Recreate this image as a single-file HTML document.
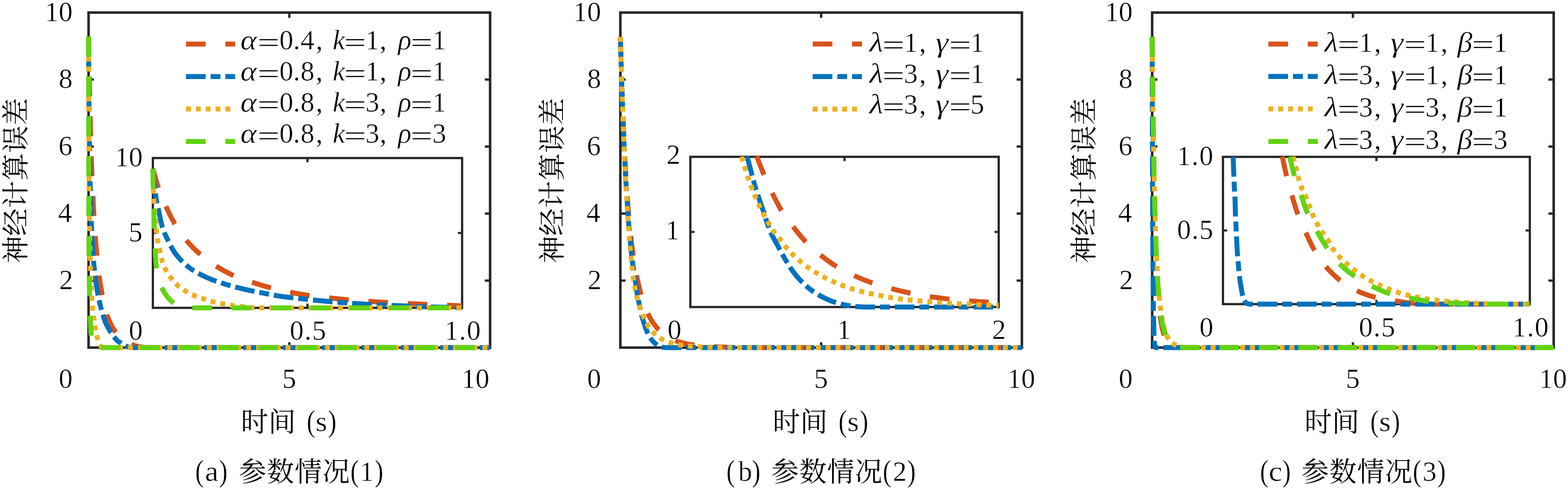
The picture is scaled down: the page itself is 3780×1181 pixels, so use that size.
<!DOCTYPE html>
<html lang="zh"><head><meta charset="utf-8"><title>神经计算误差 - 参数情况(1)(2)(3)</title>
<style>
html,body{margin:0;padding:0;background:#fff}
body{width:3780px;height:1181px;overflow:hidden}
svg{display:block}
text{font-family:"Liberation Serif",serif;font-size:67px;fill:#000;stroke:#fff;stroke-width:.7px}
text.i{font-style:italic}
text.m{text-anchor:middle}
text.cjk{font-family:"Liberation Serif","Noto Serif CJK SC",serif;fill:#000;stroke:none}
path{stroke-linecap:butt;stroke-linejoin:round}
</style></head><body>
<svg width="3780" height="1181" viewBox="0 0 3780 1181">
<rect width="3780" height="1181" fill="#fff"/>
<g id="panel-a">
<rect x="213.5" y="30.3" width="968.0" height="807.5" fill="none" stroke="#262626" stroke-width="6.1"/>
<path d="M697.5 837.8v-12.7M697.5 30.3v12.7M213.5 676.3h12.7M1181.5 676.3h-12.7M213.5 514.8h12.7M1181.5 514.8h-12.7M213.5 353.3h12.7M1181.5 353.3h-12.7M213.5 191.8h12.7M1181.5 191.8h-12.7" stroke="#262626" stroke-width="5.6" fill="none"/>
<g fill="none" stroke-width="11.87" transform="scale(1 1.012)">
<path d="M213.5 87.17C214.0 118.99 214.5 151.31 215.1 182.63C215.8 218.11 216.7 253.05 217.6 287.15C218.4 319.10 219.3 351.11 220.4 381.06C222.0 425.44 223.9 468.19 226.0 505.25C228.8 554.55 232.2 596.72 235.7 630.10C239.3 664.01 243.4 685.69 247.3 706.33C251.2 726.89 255.3 741.57 259.3 753.84C263.4 766.07 267.5 772.84 271.6 779.91C275.6 786.99 279.7 791.75 283.8 796.27C288.0 800.82 292.1 803.85 296.2 807.09C300.1 810.14 304.0 812.77 307.9 815.27C308.7 815.80 309.5 816.33 310.3 816.82C313.5 818.76 316.8 820.24 320.0 821.48C323.2 822.72 326.4 823.48 329.7 824.27C332.9 825.07 336.1 825.71 339.3 826.27C343.2 826.95 347.1 827.34 351.0 827.87L1181.5 827.87" stroke="#D95319" stroke-dasharray="47.48 47.48"/>
<path d="M213.5 87.17C213.7 121.72 213.7 156.50 214.0 190.81C214.1 200.92 214.2 210.99 214.3 221.08C214.5 237.35 214.6 253.80 214.8 269.91C214.9 279.55 215.0 289.06 215.2 298.64C215.6 331.94 215.9 366.17 216.5 398.74C216.7 407.79 216.8 416.92 217.0 425.70C217.2 433.22 217.4 440.47 217.7 447.80C218.6 479.86 219.4 513.34 220.7 541.49C221.9 568.48 223.4 593.43 224.9 613.97C226.5 634.78 228.4 650.74 230.3 665.23C232.1 680.02 234.1 690.90 236.1 701.47C238.1 712.04 240.1 720.55 242.1 728.65C244.1 736.66 246.2 743.29 248.2 749.86C250.2 756.40 252.2 763.00 254.2 767.98C256.3 773.06 258.3 776.11 260.4 779.91C262.5 783.69 264.5 787.42 266.6 790.74C268.6 794.05 270.7 797.08 272.7 799.80C274.8 802.53 276.8 804.88 278.9 807.09C280.9 809.30 282.9 811.44 285.0 813.06C287.0 814.68 289.1 815.42 291.1 816.82C293.2 818.22 295.2 820.25 297.3 821.46C299.1 822.54 300.9 823.13 302.8 823.89C305.3 824.93 307.8 826.07 310.3 826.76C312.2 827.29 314.2 827.50 316.1 827.87L1181.5 827.87" stroke="#0072BD" stroke-dasharray="47.48 11.87 23.74 11.87"/>
<path d="M213.5 87.17C213.6 126.65 213.6 166.15 213.7 205.61C213.8 223.74 213.8 241.87 213.9 259.97C213.9 277.30 214.0 294.61 214.1 311.90C214.2 329.37 214.3 346.80 214.4 364.27C214.5 382.08 214.5 399.95 214.6 417.74C214.7 435.45 214.8 453.27 215.0 470.78C215.2 488.11 215.5 505.06 215.7 522.26C215.9 539.31 216.1 556.85 216.3 573.53C216.6 590.45 217.0 607.27 217.5 623.03C217.9 638.23 218.5 652.86 219.1 666.56C219.7 680.68 220.4 694.44 221.1 706.33C221.9 718.14 222.7 728.52 223.6 737.71C224.5 747.05 225.5 754.76 226.4 761.80C227.4 768.82 228.4 774.28 229.4 779.91C230.3 785.38 231.3 790.80 232.3 795.16C233.2 799.48 234.2 802.69 235.2 805.99C236.2 809.33 237.2 812.58 238.2 815.05C239.3 817.64 240.4 819.08 241.4 821.02C242.4 822.83 243.4 825.18 244.4 826.32C245.4 827.45 246.5 827.37 247.5 827.87L310.3 827.87L1181.5 827.87" stroke="#EDB120" stroke-dasharray="11.87 11.87"/>
<path d="M213.5 87.17C213.5 122.53 213.6 157.88 213.6 193.24C213.7 228.74 213.7 264.25 213.8 299.75C213.8 334.81 213.9 369.87 214.0 404.93C214.0 440.36 214.1 475.82 214.2 511.21C214.3 545.49 214.3 580.20 214.6 613.97C215.0 649.72 215.3 687.73 216.2 719.59C217.1 749.77 218.4 781.30 220.0 801.13C220.7 810.62 221.6 820.46 222.5 824.55C223.1 827.13 223.7 826.78 224.3 827.87L310.3 827.87L1181.5 827.87" stroke="#62D412" stroke-dasharray="47.48 47.48"/>
<path d="M448.3 104.94L566.9 104.94" stroke="#D95319" stroke-dasharray="47.48 47.48"/>
<path d="M448.3 182.21L566.9 182.21" stroke="#0072BD" stroke-dasharray="47.48 11.87 23.74 11.87"/>
<path d="M448.3 259.58L566.9 259.58" stroke="#EDB120" stroke-dasharray="11.87 11.87"/>
<path d="M448.3 336.86L566.9 336.86" stroke="#62D412" stroke-dasharray="47.48 47.48"/>
</g>
<g class="t">
<g aria-label="α=0.4, k=1, ρ=1">
<text class="i" transform="translate(579.4 119.1) scale(1.123 1)">α</text>
<text transform="translate(620.2 124.6) scale(1.437 1)">=</text>
<text class="m" transform="scale(1.0 1)" x="690.3 715.0 741.2 769.6" y="119.1">0.4,</text>
<text class="i" x="802.0" y="119.1">k</text>
<text transform="translate(828.9 124.6) scale(1.434 1)">=</text>
<text class="m" transform="scale(1.0 1)" x="897.7 923.6" y="119.1">1,</text>
<text class="i" x="959.6" y="119.1">ρ</text>
<text transform="translate(989.2 124.6) scale(1.434 1)">=</text>
<text class="m" transform="scale(1.0 1)" x="1058.9" y="119.1">1</text>
</g>
<g aria-label="α=0.8, k=1, ρ=1">
<text class="i" transform="translate(579.4 194.1) scale(1.123 1)">α</text>
<text transform="translate(620.2 199.6) scale(1.437 1)">=</text>
<text class="m" transform="scale(1.0 1)" x="690.3 715.0 741.2 769.6" y="194.1">0.8,</text>
<text class="i" x="802.0" y="194.1">k</text>
<text transform="translate(828.9 199.6) scale(1.434 1)">=</text>
<text class="m" transform="scale(1.0 1)" x="897.7 923.6" y="194.1">1,</text>
<text class="i" x="959.6" y="194.1">ρ</text>
<text transform="translate(989.2 199.6) scale(1.434 1)">=</text>
<text class="m" transform="scale(1.0 1)" x="1058.9" y="194.1">1</text>
</g>
<g aria-label="α=0.8, k=3, ρ=1">
<text class="i" transform="translate(579.4 269.1) scale(1.123 1)">α</text>
<text transform="translate(620.2 274.6) scale(1.437 1)">=</text>
<text class="m" transform="scale(1.0 1)" x="690.3 715.0 741.2 769.6" y="269.1">0.8,</text>
<text class="i" x="802.0" y="269.1">k</text>
<text transform="translate(828.9 274.6) scale(1.434 1)">=</text>
<text class="m" transform="scale(1.0 1)" x="897.7 923.6" y="269.1">3,</text>
<text class="i" x="959.6" y="269.1">ρ</text>
<text transform="translate(989.2 274.6) scale(1.434 1)">=</text>
<text class="m" transform="scale(1.0 1)" x="1058.9" y="269.1">1</text>
</g>
<g aria-label="α=0.8, k=3, ρ=3">
<text class="i" transform="translate(579.4 344.1) scale(1.123 1)">α</text>
<text transform="translate(620.2 349.6) scale(1.437 1)">=</text>
<text class="m" transform="scale(1.0 1)" x="690.3 715.0 741.2 769.6" y="344.1">0.8,</text>
<text class="i" x="802.0" y="344.1">k</text>
<text transform="translate(828.9 349.6) scale(1.434 1)">=</text>
<text class="m" transform="scale(1.0 1)" x="897.7 923.6" y="344.1">3,</text>
<text class="i" x="959.6" y="344.1">ρ</text>
<text transform="translate(989.2 349.6) scale(1.434 1)">=</text>
<text class="m" transform="scale(1.0 1)" x="1058.9" y="344.1">3</text>
</g>
</g>
<rect x="368.5" y="380.9" width="745.5" height="361.1" fill="none" stroke="#262626" stroke-width="5.4"/>
<path d="M741.2 742.0v-10.2M741.2 380.9v10.2M368.5 561.5h10.2M1114.0 561.5h-10.2" stroke="#262626" stroke-width="5.2" fill="none"/>
<g fill="none" stroke-width="11.87" transform="scale(1 1.012)">
<path d="M368.5 401.98C372.7 416.21 376.2 430.66 381.0 444.66C386.5 460.53 392.9 476.15 399.9 491.40C406.5 505.69 413.4 520.01 421.6 533.40C433.8 553.24 448.3 572.36 464.5 588.93C486.1 610.98 512.6 629.84 539.7 644.76C567.3 659.93 598.4 669.62 628.8 678.85C659.0 688.05 690.3 694.61 721.5 700.10C752.6 705.57 784.2 708.60 815.6 711.76C847.1 714.92 878.6 717.05 910.2 719.07C942.0 721.11 973.8 722.46 1005.6 723.91C1035.5 725.28 1065.3 726.45 1095.2 727.57C1101.5 727.80 1107.7 728.03 1114.0 728.26" stroke="#D95319" stroke-dasharray="47.48 47.48"/>
<path d="M368.5 401.98C369.9 417.42 370.4 432.98 372.6 448.32C373.3 452.84 374.1 457.34 374.8 461.86C376.0 469.13 376.7 476.49 378.2 483.70C379.1 488.00 380.3 492.26 381.3 496.54C384.9 511.43 386.9 526.74 391.6 541.30C392.9 545.35 394.2 549.43 395.8 553.36C397.2 556.72 398.9 559.97 400.5 563.24C407.5 577.58 414.2 592.55 423.8 605.14C433.0 617.21 444.4 628.37 456.6 637.55C468.9 646.86 483.3 654.00 497.5 660.47C512.0 667.09 527.4 671.95 542.6 676.68C557.9 681.41 573.4 685.21 589.0 688.83C604.4 692.42 620.0 695.38 635.5 698.32C651.0 701.24 666.4 704.20 682.0 706.42C697.9 708.69 713.9 710.06 729.8 711.76C745.6 713.45 761.5 715.12 777.3 716.60C793.1 718.08 808.8 719.43 824.6 720.65C840.4 721.87 856.1 722.92 871.9 723.91C887.6 724.90 903.4 725.86 919.1 726.58C934.9 727.31 950.6 727.64 966.4 728.26C982.2 728.89 997.9 729.80 1013.7 730.34C1027.8 730.82 1041.9 731.08 1056.0 731.42C1075.3 731.89 1094.7 732.28 1114.0 732.71" stroke="#0072BD" stroke-dasharray="47.48 11.87 23.74 11.87"/>
<path d="M368.5 401.98C369.0 419.63 369.4 437.29 370.1 454.94C370.4 463.04 370.7 471.15 371.2 479.25C371.7 487.00 372.3 494.74 373.0 502.47C373.7 510.28 374.6 518.08 375.3 525.89C376.0 533.86 376.5 541.84 377.3 549.80C378.1 557.72 378.7 565.69 380.1 573.52C381.5 581.27 383.8 588.85 385.5 596.54C387.2 604.17 388.1 612.01 390.4 619.47C392.7 627.03 395.6 634.56 399.2 641.60C402.7 648.40 406.9 654.94 411.5 661.07C416.2 667.38 421.5 673.54 427.3 678.85C433.1 684.14 439.7 688.78 446.4 692.89C453.2 697.06 460.6 700.51 468.0 703.66C475.4 706.80 483.1 709.24 490.7 711.76C498.1 714.20 505.5 716.63 513.1 718.58C520.6 720.51 528.2 721.95 535.8 723.42C543.5 724.91 551.2 726.37 559.0 727.47C567.2 728.63 575.4 729.28 583.6 730.14C591.3 730.95 599.0 732.00 606.8 732.51C614.5 733.02 622.3 732.98 630.0 733.20L1114.0 733.20" stroke="#EDB120" stroke-dasharray="11.87 11.87"/>
<path d="M368.5 401.98C368.8 417.79 369.2 433.60 369.5 449.41C369.9 465.28 370.2 481.16 370.6 497.04C371.0 512.72 371.4 528.40 372.0 544.07C372.6 559.92 373.1 575.77 374.0 591.60C374.9 606.93 374.9 622.45 377.3 637.55C379.9 653.54 382.4 670.53 389.6 684.78C396.4 698.28 405.9 712.38 418.3 721.25C424.2 725.49 430.9 729.89 438.0 731.72C442.5 732.87 447.3 732.72 452.0 733.20L1114.0 733.20" stroke="#62D412" stroke-dasharray="47.48 47.48"/>
</g>
</g>
<g id="panel-b">
<rect x="1495.5" y="30.3" width="968.0" height="807.5" fill="none" stroke="#262626" stroke-width="6.1"/>
<path d="M1979.5 837.8v-12.7M1979.5 30.3v12.7M1495.5 676.3h12.7M2463.5 676.3h-12.7M1495.5 514.8h12.7M2463.5 514.8h-12.7M1495.5 353.3h12.7M2463.5 353.3h-12.7M1495.5 191.8h12.7M2463.5 191.8h-12.7" stroke="#262626" stroke-width="5.6" fill="none"/>
<g fill="none" stroke-width="11.87" transform="scale(1 1.012)">
<path d="M1495.5 87.79L1499.0 203.55L1502.8 301.20C1504.0 328.68 1505.2 356.15 1506.8 383.58C1508.0 406.77 1509.4 429.95 1511.0 453.08C1512.4 472.64 1513.8 492.21 1515.5 511.70C1517.0 528.22 1518.5 544.74 1520.4 561.15C1521.9 575.11 1523.6 589.06 1525.6 602.87C1527.3 614.67 1529.0 626.46 1531.2 638.06C1533.0 648.06 1535.0 657.95 1537.2 667.75C1538.6 674.42 1540.2 681.07 1541.8 687.63C1543.4 693.93 1545.0 700.19 1546.8 706.33C1548.7 712.85 1550.5 719.44 1552.8 725.59C1555.0 731.39 1557.5 736.84 1559.9 742.25C1562.5 747.95 1565.2 753.71 1568.1 758.87C1571.0 763.88 1574.1 768.49 1577.4 772.85C1580.5 777.15 1583.9 781.29 1587.3 784.88C1590.8 788.53 1594.6 791.62 1598.3 794.54C1602.1 797.43 1605.9 800.05 1609.7 802.34C1613.7 804.68 1617.8 806.56 1621.8 808.38C1625.7 810.13 1629.6 811.72 1633.6 813.10C1637.7 814.54 1641.9 815.72 1646.0 816.80C1650.0 817.84 1654.1 818.73 1658.1 819.49C1662.3 820.27 1666.4 820.82 1670.6 821.39C1674.6 821.93 1678.7 822.33 1682.7 822.84C1684.8 823.11 1687.0 823.43 1689.1 823.68C1698.8 824.82 1708.5 824.93 1718.1 825.47C1727.8 826.01 1737.5 826.53 1747.2 826.91C1760.1 827.41 1773.0 827.56 1785.9 827.87L2463.5 827.87" stroke="#D95319" stroke-dasharray="47.48 47.48"/>
<path d="M1495.5 87.79L1499.0 203.55L1502.6 301.20C1503.7 328.67 1504.9 356.14 1506.3 383.58C1507.4 406.76 1508.7 429.94 1510.1 453.08C1511.3 472.64 1512.6 492.19 1514.0 511.70C1515.3 528.21 1516.6 544.71 1518.1 561.15C1519.4 575.09 1520.7 589.02 1522.3 602.87C1523.6 614.64 1525.0 626.40 1526.6 638.06C1528.0 648.01 1529.6 657.87 1531.1 667.75C1532.2 674.59 1533.3 681.42 1534.3 688.25C1534.9 691.66 1535.3 695.10 1535.9 698.48C1536.5 701.92 1537.2 705.30 1537.9 708.71C1538.5 711.84 1539.1 714.98 1539.7 718.10C1540.4 721.40 1541.2 724.65 1541.8 727.97C1542.5 731.56 1543.0 735.24 1543.8 738.82C1544.5 742.28 1545.2 745.75 1546.1 749.09C1547.1 752.91 1548.4 756.50 1549.6 760.20C1551.2 765.42 1552.8 770.76 1554.6 775.85C1556.8 782.06 1559.0 788.36 1561.7 793.92C1564.2 799.15 1567.1 804.21 1570.2 808.38C1573.5 812.68 1577.2 816.33 1580.9 819.23C1584.7 822.18 1588.9 824.44 1593.0 825.84C1595.3 826.63 1597.8 827.08 1600.1 827.42C1601.8 827.66 1603.5 827.73 1605.1 827.87L1689.1 827.87L2463.5 827.87" stroke="#0072BD" stroke-dasharray="47.48 11.87 23.74 11.87"/>
<path d="M1495.5 87.79L1499.0 203.68L1502.4 301.43C1503.5 328.92 1504.7 356.40 1505.9 383.87C1507.0 407.06 1508.2 430.24 1509.5 453.40C1510.6 472.96 1511.8 492.51 1513.1 512.04C1514.2 528.54 1515.4 545.04 1516.7 561.50C1517.8 575.42 1519.0 589.34 1520.3 603.21C1521.5 614.96 1522.7 626.70 1524.0 638.39C1525.2 648.31 1526.5 658.17 1527.7 668.06C1527.8 668.88 1527.9 669.71 1528.1 670.53C1528.5 674.00 1529.3 677.36 1529.9 680.76C1530.5 684.06 1531.2 687.36 1531.8 690.63C1532.5 693.98 1533.2 697.32 1534.0 700.64C1534.7 703.95 1535.4 707.25 1536.3 710.51C1537.1 713.76 1537.9 716.97 1538.8 720.17C1539.7 723.40 1540.6 726.63 1541.6 729.78C1542.5 732.85 1543.6 735.83 1544.6 738.82C1545.7 741.75 1546.7 744.76 1547.8 747.54C1549.1 750.49 1550.6 753.12 1551.9 755.96C1553.2 758.73 1554.3 761.68 1555.7 764.38C1557.0 767.11 1558.4 769.71 1559.9 772.23C1561.4 774.74 1562.9 777.16 1564.5 779.46C1566.1 781.78 1567.8 784.01 1569.5 786.07C1571.1 788.00 1572.8 789.77 1574.5 791.50C1576.3 793.28 1578.0 794.98 1579.9 796.57C1581.7 798.20 1583.6 799.71 1585.5 801.15C1587.4 802.56 1589.3 803.88 1591.2 805.12C1593.2 806.36 1595.1 807.55 1597.1 808.60C1599.0 809.64 1601.0 810.52 1603.0 811.38C1605.0 812.25 1607.0 813.06 1609.0 813.80C1611.0 814.54 1613.1 815.19 1615.1 815.83C1617.1 816.47 1619.1 817.07 1621.1 817.64C1623.1 818.20 1625.2 818.76 1627.2 819.23C1629.2 819.69 1631.2 820.06 1633.2 820.42C1635.3 820.78 1637.4 821.06 1639.4 821.39C1641.5 821.71 1643.6 822.07 1645.7 822.36C1647.8 822.63 1649.8 822.82 1651.9 823.06C1653.9 823.30 1656.0 823.59 1658.0 823.81C1660.1 824.03 1662.1 824.19 1664.2 824.38C1666.2 824.58 1668.3 824.82 1670.4 825.00C1672.5 825.19 1674.6 825.34 1676.7 825.49C1678.7 825.62 1680.7 825.74 1682.7 825.84C1684.8 825.94 1687.0 826.02 1689.1 826.10C1702.0 826.61 1714.9 826.93 1727.8 827.23C1740.7 827.52 1753.6 827.66 1766.5 827.87L2463.5 827.87" stroke="#EDB120" stroke-dasharray="11.87 11.87"/>
<path d="M1959.1 104.84L2077.9 104.84" stroke="#D95319" stroke-dasharray="47.48 47.48"/>
<path d="M1959.1 182.41L2077.9 182.41" stroke="#0072BD" stroke-dasharray="47.48 11.87 23.74 11.87"/>
<path d="M1959.1 259.88L2077.9 259.88" stroke="#EDB120" stroke-dasharray="11.87 11.87"/>
</g>
<g class="t">
<g aria-label="λ=1, γ=1">
<text class="i" transform="translate(2095.7 125.2) scale(1.156 1)">λ</text>
<text transform="translate(2126.6 130.7) scale(1.443 1)">=</text>
<text class="m" transform="scale(1.0 1)" x="2195.8 2224.0" y="125.2">1,</text>
<text class="i" transform="translate(2255.5 125.2) scale(1.160 1)">γ</text>
<text transform="translate(2287.4 130.7) scale(1.437 1)">=</text>
<text class="m" transform="scale(1.0 1)" x="2356.1" y="125.2">1</text>
</g>
<g aria-label="λ=3, γ=1">
<text class="i" transform="translate(2095.7 199.8) scale(1.156 1)">λ</text>
<text transform="translate(2126.6 205.3) scale(1.443 1)">=</text>
<text class="m" transform="scale(1.0 1)" x="2195.8 2224.0" y="199.8">3,</text>
<text class="i" transform="translate(2255.5 199.8) scale(1.160 1)">γ</text>
<text transform="translate(2287.4 205.3) scale(1.437 1)">=</text>
<text class="m" transform="scale(1.0 1)" x="2356.1" y="199.8">1</text>
</g>
<g aria-label="λ=3, γ=5">
<text class="i" transform="translate(2095.7 274.2) scale(1.156 1)">λ</text>
<text transform="translate(2126.6 279.7) scale(1.443 1)">=</text>
<text class="m" transform="scale(1.0 1)" x="2195.8 2224.0" y="274.2">3,</text>
<text class="i" transform="translate(2255.5 274.2) scale(1.160 1)">γ</text>
<text transform="translate(2287.4 279.7) scale(1.437 1)">=</text>
<text class="m" transform="scale(1.0 1)" x="2356.1" y="274.2">5</text>
</g>
</g>
<rect x="1664.2" y="378.0" width="743.4" height="362.0" fill="none" stroke="#262626" stroke-width="5.4"/>
<path d="M2035.9 740.0v-10.2M2035.9 378.0v10.2M1664.2 559.0h10.2M2407.6 559.0h-10.2" stroke="#262626" stroke-width="5.2" fill="none"/>
<g fill="none" stroke-width="11.87" transform="scale(1 1.012)">
<path d="M1824.2 372.33C1830.1 387.19 1835.7 402.19 1842.0 416.90C1848.0 431.00 1854.3 445.04 1861.1 458.79C1868.3 473.43 1875.6 488.19 1884.3 501.98C1892.5 514.97 1902.1 527.19 1911.6 539.33C1921.6 552.10 1931.7 565.00 1943.0 576.58C1954.0 587.81 1966.1 598.14 1978.5 607.91C1990.7 617.56 2003.5 626.82 2016.8 634.88C2030.3 643.05 2044.7 649.98 2059.1 656.52C2073.4 663.01 2088.1 668.89 2102.9 674.01C2118.1 679.26 2133.7 683.46 2149.3 687.55C2164.2 691.46 2179.3 695.03 2194.4 698.12C2210.2 701.36 2226.2 704.01 2242.2 706.42C2257.6 708.76 2273.2 710.75 2288.7 712.45C2304.6 714.19 2320.6 715.43 2336.5 716.70C2352.0 717.93 2367.5 718.81 2383.0 719.96C2391.2 720.57 2399.4 721.21 2407.6 721.84" stroke="#D95319" stroke-dasharray="47.48 47.48"/>
<path d="M1801.0 372.33C1805.1 387.65 1809.2 402.96 1813.3 418.28C1815.3 425.92 1817.2 433.63 1819.4 441.21C1821.7 448.91 1824.4 456.50 1826.9 464.13C1829.2 471.16 1831.6 478.19 1834.0 485.18C1836.6 492.58 1839.5 499.88 1842.0 507.31C1844.7 515.35 1846.7 523.61 1849.5 531.62C1852.2 539.39 1855.0 547.17 1858.4 554.64C1862.3 563.21 1867.4 571.25 1871.9 579.55C1878.3 591.25 1884.2 603.21 1891.1 614.62C1899.5 628.55 1908.0 642.68 1918.4 655.14C1928.2 666.87 1939.1 678.19 1951.2 687.55C1963.7 697.19 1977.8 705.37 1992.2 711.86C2006.9 718.48 2022.7 723.56 2038.6 726.68C2047.6 728.45 2056.8 729.47 2066.0 730.24C2072.3 730.77 2078.7 730.91 2085.1 731.23L2407.6 731.23" stroke="#0072BD" stroke-dasharray="47.48 11.87 23.74 11.87"/>
<path d="M1788.0 373.02C1788.4 374.87 1788.8 376.72 1789.2 378.56C1791.0 386.34 1793.8 393.87 1796.3 401.48C1798.7 408.89 1801.1 416.27 1803.7 423.62C1806.3 431.13 1809.1 438.61 1811.9 446.05C1814.7 453.46 1817.6 460.88 1820.7 468.18C1823.8 475.47 1827.1 482.66 1830.5 489.82C1833.9 497.06 1837.3 504.32 1841.1 511.36C1844.8 518.24 1848.9 524.93 1852.9 531.62C1856.9 538.20 1860.6 544.95 1865.1 551.19C1869.8 557.80 1875.6 563.68 1880.7 570.06C1885.6 576.26 1890.1 582.88 1895.2 588.93C1900.4 595.04 1905.9 600.88 1911.6 606.52C1917.3 612.14 1923.2 617.58 1929.3 622.73C1935.5 627.93 1941.9 632.92 1948.5 637.55C1954.7 641.87 1961.1 645.84 1967.6 649.70C1974.3 653.70 1981.1 657.50 1988.1 661.07C1995.2 664.73 2002.5 668.12 2009.9 671.34C2017.1 674.50 2024.4 677.46 2031.8 680.24C2039.2 683.03 2046.7 685.70 2054.2 688.04C2061.7 690.37 2069.3 692.34 2076.9 694.27C2084.6 696.23 2092.3 698.04 2100.1 699.70C2107.8 701.36 2115.6 702.81 2123.4 704.25C2131.1 705.68 2138.9 707.03 2146.6 708.30C2154.3 709.57 2162.0 710.82 2169.8 711.86C2177.5 712.89 2185.3 713.72 2193.1 714.53C2201.0 715.34 2208.9 715.98 2216.8 716.70C2224.8 717.43 2232.9 718.24 2240.9 718.87C2248.8 719.49 2256.8 719.91 2264.7 720.45C2272.5 720.99 2280.4 721.64 2288.2 722.13C2296.1 722.63 2304.0 722.98 2311.9 723.42C2319.8 723.86 2327.8 724.39 2335.7 724.80C2343.7 725.22 2351.8 725.57 2359.8 725.89C2367.5 726.19 2375.3 726.45 2383.0 726.68C2391.2 726.92 2399.4 727.08 2407.6 727.27" stroke="#EDB120" stroke-dasharray="11.87 11.87"/>
</g>
</g>
<g id="panel-c">
<rect x="2777.5" y="30.3" width="968.0" height="807.5" fill="none" stroke="#262626" stroke-width="6.1"/>
<path d="M3261.5 837.8v-12.7M3261.5 30.3v12.7M2777.5 676.3h12.7M3745.5 676.3h-12.7M2777.5 514.8h12.7M3745.5 514.8h-12.7M2777.5 353.3h12.7M3745.5 353.3h-12.7M2777.5 191.8h12.7M3745.5 191.8h-12.7" stroke="#262626" stroke-width="5.6" fill="none"/>
<g fill="none" stroke-width="11.87" transform="scale(1 1.012)">
<path d="M2777.5 87.79L2779.4 249.97L2781.3 376.61L2783.2 475.49L2785.3 552.71L2787.3 613.01L2789.5 660.09C2790.1 672.36 2790.8 684.63 2791.6 696.86C2792.3 706.44 2793.0 716.03 2793.9 725.57C2794.6 733.06 2795.3 740.55 2796.2 747.98C2796.6 751.41 2797.0 754.84 2797.5 758.24C2798.1 761.84 2798.6 765.42 2799.2 768.98C2799.8 772.38 2800.4 775.81 2801.1 779.12C2801.8 782.50 2802.7 785.78 2803.6 789.06C2804.5 792.25 2805.3 795.50 2806.3 798.53C2807.4 801.64 2808.6 804.71 2809.9 807.45C2811.3 810.16 2812.8 812.73 2814.4 814.92C2816.0 817.08 2817.8 819.00 2819.6 820.54C2821.5 822.08 2823.5 823.23 2825.5 824.16C2827.5 825.09 2829.6 825.55 2831.7 826.11C2833.7 826.66 2835.7 827.22 2837.7 827.51C2839.5 827.77 2841.3 827.76 2843.2 827.87L2874.3 827.87L3745.5 827.87" stroke="#D95319" stroke-dasharray="47.48 47.48"/>
<path d="M2777.5 87.79L2777.9 249.97L2778.2 376.61L2778.6 475.49L2778.9 552.71L2779.3 613.01L2779.7 660.09C2779.8 672.35 2779.9 684.60 2780.0 696.86C2780.1 706.43 2780.2 716.00 2780.4 725.57C2780.5 733.04 2780.6 740.51 2780.7 747.98C2780.8 751.57 2780.9 755.15 2780.9 758.73C2781.0 760.52 2781.0 762.31 2781.1 764.10C2781.1 765.93 2781.2 767.76 2781.3 769.59C2781.4 773.13 2781.4 776.68 2781.5 780.22C2781.5 782.05 2781.6 783.88 2781.6 785.71C2781.7 787.50 2781.7 789.29 2781.8 791.08C2781.9 794.62 2781.9 798.16 2782.1 801.70C2782.2 803.53 2782.3 805.35 2782.4 807.18C2782.5 809.03 2782.6 810.87 2782.7 812.71C2782.8 814.77 2783.0 816.83 2783.2 818.87C2783.4 820.30 2783.5 821.74 2783.7 823.14C2783.9 824.05 2784.0 825.03 2784.2 825.84C2784.4 826.41 2784.6 827.08 2784.9 827.42C2785.2 827.69 2785.5 827.72 2785.8 827.87L2874.3 827.87L3745.5 827.87" stroke="#0072BD" stroke-dasharray="47.48 11.87 23.74 11.87"/>
<path d="M2777.5 87.79L2779.4 249.97L2781.4 376.61L2783.5 475.49L2785.8 552.71L2788.2 613.01L2790.8 660.09C2791.6 672.37 2792.4 684.65 2793.5 696.86C2794.4 706.46 2795.3 716.07 2796.4 725.57C2797.4 733.08 2798.4 740.57 2799.6 747.98C2799.7 748.39 2799.7 748.79 2799.8 749.20C2800.1 750.87 2800.3 752.55 2800.6 754.23C2800.8 756.01 2801.0 757.82 2801.3 759.58C2801.6 761.30 2801.9 763.03 2802.3 764.69C2802.7 766.36 2803.2 767.93 2803.6 769.59C2804.0 771.21 2804.3 772.87 2804.7 774.51C2805.1 776.22 2805.4 777.95 2805.9 779.62C2806.3 781.22 2806.7 782.80 2807.2 784.34C2807.7 785.91 2808.3 787.45 2808.8 788.95C2809.4 790.49 2810.1 791.90 2810.7 793.44C2811.3 794.98 2811.7 796.69 2812.3 798.19C2812.9 799.62 2813.6 800.97 2814.3 802.26C2814.9 803.48 2815.6 804.61 2816.4 805.72C2817.2 806.93 2818.0 808.07 2818.8 809.18C2819.6 810.27 2820.5 811.35 2821.3 812.33C2822.2 813.33 2823.1 814.26 2824.0 815.12C2824.9 815.96 2825.8 816.72 2826.8 817.46C2827.7 818.20 2828.7 818.91 2829.6 819.57C2830.6 820.25 2831.6 820.91 2832.6 821.48C2833.6 822.03 2834.6 822.52 2835.6 822.94C2836.6 823.38 2837.6 823.70 2838.6 824.04C2839.7 824.38 2840.7 824.71 2841.7 824.99C2842.8 825.27 2843.8 825.51 2844.8 825.73C2845.8 825.95 2846.9 826.13 2847.9 826.29C2848.9 826.45 2850.0 826.55 2851.0 826.67C2852.0 826.80 2853.1 826.94 2854.1 827.06C2855.1 827.18 2856.1 827.30 2857.2 827.39C2858.2 827.49 2859.2 827.55 2860.3 827.62C2861.3 827.69 2862.3 827.76 2863.3 827.80C2864.4 827.84 2865.4 827.85 2866.4 827.87C2869.1 827.91 2871.7 827.87 2874.3 827.87L3745.5 827.87" stroke="#EDB120" stroke-dasharray="11.87 11.87"/>
<path d="M2777.5 87.79L2779.4 249.97L2781.4 376.61L2783.4 475.49L2785.6 552.71L2787.9 613.01L2790.4 660.09C2791.1 672.36 2791.9 684.64 2792.9 696.86C2793.7 706.45 2794.6 716.05 2795.7 725.57C2796.5 733.07 2797.5 740.54 2798.5 747.98C2799.0 751.41 2799.5 754.86 2800.0 758.24C2800.6 761.76 2801.4 765.20 2802.1 768.67C2802.8 772.02 2803.4 775.45 2804.2 778.70C2805.0 782.01 2806.1 785.19 2807.1 788.34C2808.1 791.30 2809.1 794.26 2810.2 797.06C2811.4 800.18 2812.7 803.32 2814.3 806.01C2815.7 808.50 2817.3 810.72 2819.0 812.71C2820.7 814.73 2822.5 816.44 2824.3 818.02C2826.2 819.60 2828.1 821.13 2830.0 822.20C2832.0 823.29 2834.1 823.74 2836.2 824.45C2838.2 825.14 2840.2 825.95 2842.2 826.40C2844.3 826.87 2846.5 826.95 2848.6 827.17C2850.6 827.37 2852.6 827.57 2854.6 827.69C2856.7 827.81 2858.8 827.82 2860.9 827.87C2865.4 827.95 2869.8 827.87 2874.3 827.87L3745.5 827.87" stroke="#62D412" stroke-dasharray="47.48 47.48"/>
<path d="M3057.7 104.94L3176.7 104.94" stroke="#D95319" stroke-dasharray="47.48 47.48"/>
<path d="M3057.7 182.02L3176.7 182.02" stroke="#0072BD" stroke-dasharray="47.48 11.87 23.74 11.87"/>
<path d="M3057.7 259.49L3176.7 259.49" stroke="#EDB120" stroke-dasharray="11.87 11.87"/>
<path d="M3057.7 336.86L3176.7 336.86" stroke="#62D412" stroke-dasharray="47.48 47.48"/>
</g>
<g class="t">
<g aria-label="λ=1, γ=1, β=1">
<text class="i" transform="translate(3192.7 124.6) scale(1.156 1)">λ</text>
<text transform="translate(3224.0 130.1) scale(1.434 1)">=</text>
<text class="m" transform="scale(1.0 1)" x="3292.8 3321.0" y="124.6">1,</text>
<text class="i" transform="translate(3352.3 124.6) scale(1.160 1)">γ</text>
<text transform="translate(3384.3 130.1) scale(1.434 1)">=</text>
<text class="m" transform="scale(1.0 1)" x="3453.0 3481.5" y="124.6">1,</text>
<text class="i" transform="translate(3513.2 124.6) scale(1.086 1)">β</text>
<text transform="translate(3547.7 130.1) scale(1.437 1)">=</text>
<text class="m" transform="scale(1.0 1)" x="3617.6" y="124.6">1</text>
</g>
<g aria-label="λ=3, γ=1, β=1">
<text class="i" transform="translate(3192.7 202.7) scale(1.156 1)">λ</text>
<text transform="translate(3224.0 208.2) scale(1.434 1)">=</text>
<text class="m" transform="scale(1.0 1)" x="3292.8 3321.0" y="202.7">3,</text>
<text class="i" transform="translate(3352.3 202.7) scale(1.160 1)">γ</text>
<text transform="translate(3384.3 208.2) scale(1.434 1)">=</text>
<text class="m" transform="scale(1.0 1)" x="3453.0 3481.5" y="202.7">1,</text>
<text class="i" transform="translate(3513.2 202.7) scale(1.086 1)">β</text>
<text transform="translate(3547.7 208.2) scale(1.437 1)">=</text>
<text class="m" transform="scale(1.0 1)" x="3617.6" y="202.7">1</text>
</g>
<g aria-label="λ=3, γ=3, β=1">
<text class="i" transform="translate(3192.7 280.8) scale(1.156 1)">λ</text>
<text transform="translate(3224.0 286.3) scale(1.434 1)">=</text>
<text class="m" transform="scale(1.0 1)" x="3292.8 3321.0" y="280.8">3,</text>
<text class="i" transform="translate(3352.3 280.8) scale(1.160 1)">γ</text>
<text transform="translate(3384.3 286.3) scale(1.434 1)">=</text>
<text class="m" transform="scale(1.0 1)" x="3453.0 3481.5" y="280.8">3,</text>
<text class="i" transform="translate(3513.2 280.8) scale(1.086 1)">β</text>
<text transform="translate(3547.7 286.3) scale(1.437 1)">=</text>
<text class="m" transform="scale(1.0 1)" x="3617.6" y="280.8">1</text>
</g>
<g aria-label="λ=3, γ=3, β=3">
<text class="i" transform="translate(3192.7 358.9) scale(1.156 1)">λ</text>
<text transform="translate(3224.0 364.4) scale(1.434 1)">=</text>
<text class="m" transform="scale(1.0 1)" x="3292.8 3321.0" y="358.9">3,</text>
<text class="i" transform="translate(3352.3 358.9) scale(1.160 1)">γ</text>
<text transform="translate(3384.3 364.4) scale(1.434 1)">=</text>
<text class="m" transform="scale(1.0 1)" x="3453.0 3481.5" y="358.9">3,</text>
<text class="i" transform="translate(3513.2 358.9) scale(1.086 1)">β</text>
<text transform="translate(3547.7 364.4) scale(1.437 1)">=</text>
<text class="m" transform="scale(1.0 1)" x="3617.6" y="358.9">3</text>
</g>
</g>
<rect x="2948.2" y="378.1" width="739.8" height="354.9" fill="none" stroke="#262626" stroke-width="5.4"/>
<path d="M3318.1 733.0v-10.2M3318.1 378.1v10.2M2948.2 555.5h10.2M3688.0 555.5h-10.2" stroke="#262626" stroke-width="5.2" fill="none"/>
<g fill="none" stroke-width="11.87" transform="scale(1 1.012)">
<path d="M3091.2 373.22C3094.6 388.24 3097.6 403.35 3101.3 418.28C3105.3 434.13 3109.7 449.86 3114.4 465.51C3118.9 480.45 3123.1 495.51 3128.6 510.08C3134.2 524.93 3141.1 539.35 3147.8 553.75C3154.4 567.77 3160.5 582.07 3168.4 595.36C3176.5 609.05 3185.5 622.52 3195.9 634.58C3206.2 646.51 3217.7 657.76 3230.2 667.39C3242.5 676.90 3256.1 685.34 3270.2 692.09C3284.4 698.90 3299.7 703.93 3314.9 708.00C3330.3 712.12 3346.3 714.12 3362.1 716.60C3377.4 719.00 3392.7 721.45 3408.1 722.73C3422.0 723.88 3436.0 723.86 3450.0 724.31L3688.0 724.31" stroke="#D95319" stroke-dasharray="47.48 47.48"/>
<path d="M2972.9 373.22C2973.4 388.97 2973.9 404.71 2974.5 420.45C2974.8 428.33 2975.1 436.20 2975.5 444.07C2975.9 452.11 2976.6 460.14 2977.0 468.18C2977.8 483.75 2977.7 499.35 2978.4 514.92C2978.7 522.96 2979.2 531.00 2979.6 539.03C2980.0 546.90 2980.5 554.78 2980.9 562.65C2981.7 578.19 2982.2 593.77 2983.4 609.29C2984.0 617.33 2984.9 625.36 2985.6 633.40C2986.4 641.50 2986.9 649.63 2987.9 657.71C2989.0 666.76 2990.4 675.80 2992.0 684.78C2993.1 691.06 2994.1 697.40 2995.8 703.56C2996.9 707.55 2997.6 711.86 2999.6 715.42C3001.0 717.91 3002.6 720.85 3005.0 722.33C3006.9 723.55 3009.7 723.66 3012.0 724.31L3688.0 724.31" stroke="#0072BD" stroke-dasharray="47.48 11.87 23.74 11.87"/>
<path d="M3117.0 373.22C3117.5 375.00 3118.0 376.78 3118.5 378.56C3120.6 385.92 3122.6 393.29 3124.5 400.69C3126.5 408.51 3128.1 416.46 3130.3 424.21C3132.5 431.77 3134.8 439.33 3137.7 446.64C3140.6 453.99 3144.7 460.90 3147.8 468.18C3150.8 475.29 3153.4 482.61 3156.2 489.82C3159.1 497.30 3161.7 504.92 3165.0 512.25C3168.2 519.31 3171.7 526.23 3175.4 533.00C3179.2 539.91 3183.3 546.67 3187.7 553.26C3192.2 560.02 3197.5 566.25 3201.9 573.02C3206.3 579.79 3209.6 587.29 3214.3 593.87C3218.8 600.18 3223.9 606.12 3229.2 611.76C3234.3 617.12 3239.8 622.10 3245.3 626.98C3251.3 632.28 3257.6 637.30 3264.0 642.19C3270.2 646.98 3276.5 651.71 3283.1 656.03C3289.8 660.41 3296.7 664.49 3303.7 668.28C3310.6 671.99 3317.7 675.32 3324.8 678.56C3332.0 681.84 3339.3 684.93 3346.7 687.85C3354.3 690.83 3361.9 693.73 3369.6 696.25C3376.9 698.64 3384.4 700.81 3391.9 702.67C3399.7 704.59 3407.6 706.01 3415.5 707.51C3423.3 709.00 3431.2 710.42 3439.1 711.66C3446.9 712.89 3454.8 713.96 3462.7 714.92C3470.6 715.87 3478.4 716.70 3486.3 717.39C3494.2 718.08 3502.0 718.51 3509.9 719.07C3517.8 719.63 3525.6 720.22 3533.5 720.75C3541.4 721.28 3549.2 721.82 3557.1 722.23C3565.0 722.64 3572.8 722.92 3580.7 723.22C3588.6 723.52 3596.4 723.83 3604.3 724.01C3612.2 724.19 3620.1 724.24 3628.0 724.31C3648.0 724.49 3668.0 724.31 3688.0 724.31" stroke="#EDB120" stroke-dasharray="11.87 11.87"/>
<path d="M3109.0 373.22C3112.8 388.24 3116.0 403.44 3120.4 418.28C3125.0 433.76 3130.9 448.88 3136.3 464.13C3141.5 478.85 3145.8 493.94 3152.1 508.20C3158.5 522.78 3166.6 536.73 3174.5 550.59C3182.0 563.61 3189.5 576.62 3198.1 588.93C3207.6 602.62 3217.5 616.45 3229.2 628.26C3240.0 639.19 3252.5 648.95 3265.2 657.71C3278.1 666.57 3292.1 674.08 3306.2 681.03C3320.3 687.98 3334.7 694.71 3349.7 699.41C3365.0 704.19 3381.1 706.17 3396.9 709.29C3412.2 712.32 3427.5 715.90 3442.9 717.89C3458.9 719.95 3475.2 720.29 3491.3 721.25C3506.6 722.15 3522.0 723.01 3537.3 723.52C3553.4 724.05 3569.6 724.13 3585.7 724.31C3619.8 724.69 3653.9 724.31 3688.0 724.31" stroke="#62D412" stroke-dasharray="47.48 47.48"/>
</g>
</g>
<g class="t">
<text x="142.7" y="696.5">2</text>
<text x="140.0" y="535.0">4</text>
<text x="141.0" y="373.5">6</text>
<text x="141.6" y="212.0">8</text>
<text x="108.1" y="50.5">10</text>
<text x="141.6" y="934.7">0</text>
<text x="680.4" y="934.7">5</text>
<text x="1112.7" y="934.7">10</text>
<text x="1416.5" y="696.5">2</text>
<text x="1413.8" y="535.0">4</text>
<text x="1414.8" y="373.5">6</text>
<text x="1415.4" y="212.0">8</text>
<text x="1381.9" y="50.5">10</text>
<text x="1415.4" y="934.7">0</text>
<text x="1962.4" y="934.7">5</text>
<text x="2428.5" y="934.7">10</text>
<text x="2698.2" y="696.5">2</text>
<text x="2695.5" y="535.0">4</text>
<text x="2696.5" y="373.5">6</text>
<text x="2697.1" y="212.0">8</text>
<text x="2663.6" y="50.5">10</text>
<text x="2697.1" y="934.7">0</text>
<text x="3244.4" y="934.7">5</text>
<text x="3710.5" y="934.7">10</text>
<text x="277.0" y="401.1">10</text>
<text x="310.0" y="581.7">5</text>
<text x="310.6" y="819.0">0</text>
<text x="698.6" y="819.0" letter-spacing="1.8">0.5</text>
<text x="1071.4" y="819.0" letter-spacing="1.8">1.0</text>
<text x="1606.7" y="394.8">2</text>
<text x="1604.5" y="577.0">1</text>
<text x="1609.2" y="816.8">0</text>
<text x="2018.1" y="816.8">1</text>
<text x="2391.5" y="816.8">2</text>
<text x="2837.3" y="398.3" letter-spacing="1.8">1.0</text>
<text x="2837.4" y="575.8" letter-spacing="1.8">0.5</text>
<text x="2891.6" y="811.0">0</text>
<text x="3275.8" y="811.0" letter-spacing="1.8">0.5</text>
<text x="3645.9" y="811.0" letter-spacing="1.8">1.0</text>
<g transform="translate(580.7 1040.0)">
<text class="cjk" x="0" y="0" textLength="132.2" style="font-size:66px">时间</text>
</g>
<text transform="translate(739.2 1040.1) scale(0.85 1)" style="font-size:74px">(</text>
<text transform="translate(760.8 1039.0) scale(1.07 1)">s</text>
<text transform="translate(790.2 1040.1) scale(0.85 1)" style="font-size:74px">)</text>
<text transform="translate(470.5 1159.6) scale(0.85 1)" style="font-size:74px">(</text>
<text transform="translate(493.9 1158.7) scale(1.1 1)">a</text>
<text transform="translate(527.8 1159.6) scale(0.85 1)" style="font-size:74px">)</text>
<g transform="translate(576.1 1159.6)">
<text class="cjk" x="0" y="0" textLength="267.2" style="font-size:66px">参数情况</text>
</g>
<text transform="translate(844.5 1159.6) scale(0.85 1)" style="font-size:74px">(</text>
<text x="867.4" y="1158.7">1</text>
<text transform="translate(903.2 1159.6) scale(0.85 1)" style="font-size:74px">)</text>
<g transform="translate(61.3 634.6) rotate(-90)">
<text class="cjk" x="0" y="0" textLength="398.4" style="font-size:66px">神经计算误差</text>
</g>
<g transform="translate(1862.7 1040.0)">
<text class="cjk" x="0" y="0" textLength="132.2" style="font-size:66px">时间</text>
</g>
<text transform="translate(2021.2 1040.1) scale(0.85 1)" style="font-size:74px">(</text>
<text transform="translate(2042.8 1039.0) scale(1.07 1)">s</text>
<text transform="translate(2072.2 1040.1) scale(0.85 1)" style="font-size:74px">)</text>
<text transform="translate(1751.1 1159.6) scale(0.85 1)" style="font-size:74px">(</text>
<text x="1779.7" y="1158.7">b</text>
<text transform="translate(1812.5 1159.6) scale(0.85 1)" style="font-size:74px">)</text>
<g transform="translate(1859.6 1159.6)">
<text class="cjk" x="0" y="0" textLength="267.2" style="font-size:66px">参数情况</text>
</g>
<text transform="translate(2128.0 1159.6) scale(0.85 1)" style="font-size:74px">(</text>
<text x="2152.2" y="1158.7">2</text>
<text transform="translate(2186.7 1159.6) scale(0.85 1)" style="font-size:74px">)</text>
<g transform="translate(1354.2 634.6) rotate(-90)">
<text class="cjk" x="0" y="0" textLength="398.4" style="font-size:66px">神经计算误差</text>
</g>
<g transform="translate(3144.7 1040.0)">
<text class="cjk" x="0" y="0" textLength="132.2" style="font-size:66px">时间</text>
</g>
<text transform="translate(3303.2 1040.1) scale(0.85 1)" style="font-size:74px">(</text>
<text transform="translate(3324.8 1039.0) scale(1.07 1)">s</text>
<text transform="translate(3354.2 1040.1) scale(0.85 1)" style="font-size:74px">)</text>
<text transform="translate(3037.2 1159.6) scale(0.85 1)" style="font-size:74px">(</text>
<text transform="translate(3058.4 1158.7) scale(1.1 1)">c</text>
<text transform="translate(3091.1 1159.6) scale(0.85 1)" style="font-size:74px">)</text>
<g transform="translate(3137.4 1159.6)">
<text class="cjk" x="0" y="0" textLength="267.2" style="font-size:66px">参数情况</text>
</g>
<text transform="translate(3405.8 1159.6) scale(0.85 1)" style="font-size:74px">(</text>
<text x="3429.4" y="1158.7">3</text>
<text transform="translate(3464.5 1159.6) scale(0.85 1)" style="font-size:74px">)</text>
<g transform="translate(2636.2 634.6) rotate(-90)">
<text class="cjk" x="0" y="0" textLength="398.4" style="font-size:66px">神经计算误差</text>
</g>
</g>
</svg>
</body></html>
